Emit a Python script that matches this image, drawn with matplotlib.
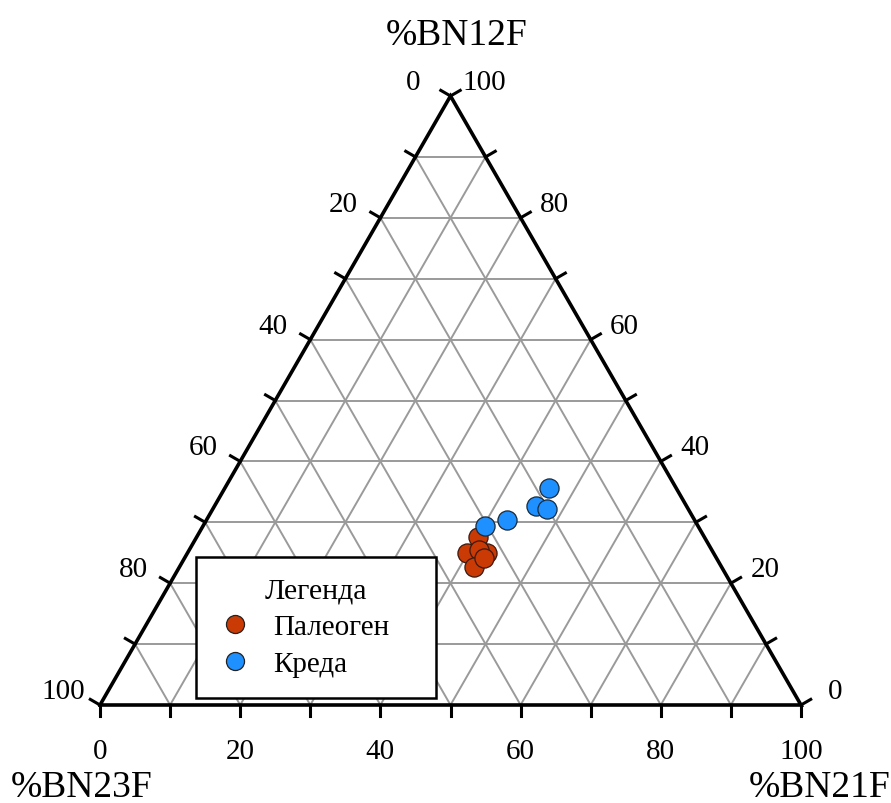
import numpy as np
import matplotlib
matplotlib.use("Agg")
import matplotlib.pyplot as plt
from matplotlib.lines import Line2D

plt.rcParams["font.family"] = ["Liberation Serif", "DejaVu Serif"]

# Composition data (%), one array per component
paleogene_bn12f = [27.6, 25.0, 24.9, 25.4, 22.7, 24.1]
paleogene_bn21f = [40.1, 39.9, 42.7, 41.3, 42.0, 42.7]
paleogene_bn23f = [32.3, 35.1, 32.4, 33.3, 35.3, 33.2]

kreda_bn12f = [35.6, 32.7, 32.2, 30.4, 29.4]
kreda_bn21f = [46.2, 45.9, 47.7, 42.8, 40.2]
kreda_bn23f = [18.2, 21.4, 20.1, 26.8, 30.4]

tick_values = list(range(0, 101, 10))
label_values = list(range(0, 101, 20))

series_labels = ["Палеоген", "Креда"]
series_colors = ["#C93A05", "#1E90FF"]
legend_title = "Легенда"
axis_titles = ["%BN12F", "%BN23F", "%BN21F"]

H = np.sqrt(3) / 2


def to_xy(b12, b21, b23):
    b12, b21, b23 = (np.asarray(v, float) for v in (b12, b21, b23))
    s = b12 + b21 + b23
    b12, b21 = b12 / s, b21 / s
    return b21 + b12 / 2, b12 * H


fig = plt.figure(figsize=(8.91, 8.04), dpi=100)
ax = fig.add_axes([100 / 891, 98 / 804, 701 / 891, 609 / 804])
ax.set_xlim(0, 1)
ax.set_ylim(0, H)
ax.axis("off")

grid_kw = dict(color="#9a9a9a", lw=1.4, zorder=1, clip_on=False)
for v in tick_values[1:-1]:
    # constant BN12F (horizontal)
    x0, y0 = to_xy(v, 0, 100 - v)
    x1, y1 = to_xy(v, 100 - v, 0)
    ax.plot([x0, x1], [y0, y1], **grid_kw)
    # constant BN21F
    x0, y0 = to_xy(0, v, 100 - v)
    x1, y1 = to_xy(100 - v, v, 0)
    ax.plot([x0, x1], [y0, y1], **grid_kw)
    # constant BN23F
    x0, y0 = to_xy(0, 100 - v, v)
    x1, y1 = to_xy(100 - v, 0, v)
    ax.plot([x0, x1], [y0, y1], **grid_kw)

# Triangle outline
tx, ty = to_xy([0, 0, 100, 0], [0, 100, 0, 0], [100, 0, 0, 100])
ax.plot(tx, ty, color="black", lw=2.6, zorder=3, clip_on=False, solid_joinstyle="miter")

L = 0.016
tick_kw = dict(color="black", lw=2.2, zorder=3, clip_on=False)
lab_kw = dict(fontsize=21, ha="center", va="baseline", textcoords="offset pixels")
for v in tick_values:
    # bottom axis: BN21F
    x, y = to_xy(0, v, 100 - v)
    ax.plot([x, x], [y, y - L], **tick_kw)
    # left axis: BN23F
    x, y = to_xy(100 - v, 0, v)
    ax.plot([x, x - L * np.cos(np.pi / 6)], [y, y + L * 0.5], **tick_kw)
    # right axis: BN12F
    x, y = to_xy(v, 100 - v, 0)
    ax.plot([x, x + L * np.cos(np.pi / 6)], [y, y + L * 0.5], **tick_kw)

for v in label_values:
    x, y = to_xy(0, v, 100 - v)
    ax.annotate(str(v), (x, y), xytext=(0, -53), **lab_kw)
    x, y = to_xy(100 - v, 0, v)
    ax.annotate(str(v), (x, y), xytext=(-37, 7), **lab_kw)
    x, y = to_xy(v, 100 - v, 0)
    ax.annotate(str(v), (x, y), xytext=(34, 7), **lab_kw)

# Axis titles at the corners
title_kw = dict(fontsize=27, ha="center", va="baseline", textcoords="offset pixels")
ax.annotate(axis_titles[0], to_xy(100, 0, 0), xytext=(6, 52), **title_kw)
ax.annotate(axis_titles[1], to_xy(0, 0, 100), xytext=(-18, -91), **title_kw)
ax.annotate(axis_titles[2], to_xy(0, 100, 0), xytext=(19, -91), **title_kw)

# Data points
px, py = to_xy(paleogene_bn12f, paleogene_bn21f, paleogene_bn23f)
ax.scatter(px, py, s=190, color=series_colors[0], edgecolor="#3a1a10",
           linewidth=0.9, zorder=5, clip_on=False)
kx, ky = to_xy(kreda_bn12f, kreda_bn21f, kreda_bn23f)
ax.scatter(kx, ky, s=190, color=series_colors[1], edgecolor="#1a2a3a",
           linewidth=0.9, zorder=6, clip_on=False)

handles = [Line2D([], [], ls="none", marker="o", markersize=13,
                  markerfacecolor=c, markeredgecolor="#222222", markeredgewidth=0.9)
           for c in series_colors]
leg_h = 0.2
leg = ax.legend(handles, series_labels, title=legend_title,
                loc="upper left",
                bbox_to_anchor=(196 / 891, 1 - 558 / 804 - leg_h, 240 / 891, leg_h),
                bbox_transform=fig.transFigure, mode="expand",
                fontsize=21, title_fontsize=21.5, frameon=True, fancybox=False,
                framealpha=1, edgecolor="black", borderpad=0.7, labelspacing=0.36,
                handletextpad=0.65, handlelength=1.3, borderaxespad=0, alignment="center")
leg.get_frame().set_linewidth(1.8)
leg.set_zorder(4)

fig.savefig("out.png", dpi=100)
